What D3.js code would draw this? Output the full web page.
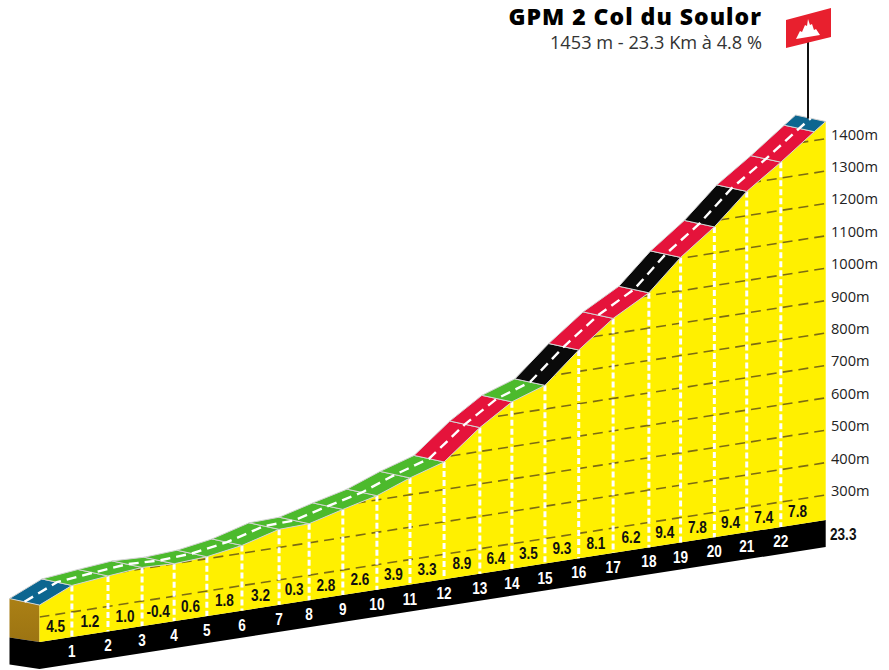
<!DOCTYPE html>
<html>
<head>
<meta charset="utf-8">
<script src="https://cdn.jsdelivr.net/npm/d3@7"></script>
<style>
    body { margin: 0; background: #fff; }
    svg { display: block; }
    text { font-family: "Open Sans", sans-serif; }
    .narrow { font-family: "Liberation Sans", sans-serif; font-weight: bold; }
</style>
</head>
<body>
<div id="chart"></div>
<script>
// profile points
const profileKm = [0, 0.96, 2.03, 3.04, 3.99, 4.96, 6.0, 7.1, 7.99, 8.99, 10, 10.98, 11.99, 13.05, 14, 14.98, 15.98, 17, 18.06, 19, 20, 20.96, 21.97, 22.96, 23.3];
const profileAlt = [337, 382, 394, 404, 400, 406, 424, 456, 459, 487, 513, 552, 585, 674, 738, 773, 866, 947, 1009, 1103, 1181, 1275, 1349, 1427, 1453];
const gradients = [4.5, 1.2, 1.0, -0.4, 0.6, 1.8, 3.2, 0.3, 2.8, 2.6, 3.9, 3.3, 8.9, 6.4, 3.5, 9.3, 8.1, 6.2, 9.4, 7.8, 9.4, 7.4, 7.8];
const altTicks = [300, 400, 500, 600, 700, 800, 900, 1000, 1100, 1200, 1300, 1400];
const kmLabels = d3.range(1, 23);
const totalKm = 23.3;
const title = "GPM 2 Col du Soulor";
const subtitle = "1453 m - 23.3 Km à 4.8 %";

const svg = d3.select("#chart").append("svg")
    .attr("width", 889)
    .attr("height", 670);

// x along the road, y is altitude plus a tilt that makes the oblique view
const x = d3.scaleLinear().domain([0, totalKm]).range([39.5, 825.7]);
const y = d3.scaleLinear().domain([223, 1453]).range([520, 121.5]);
const tilt = d3.scaleLinear().domain([0, totalKm]).range([122, 0]);
const py = (km, alt) => y(alt) + tilt(km);
const baseAlt = y.domain()[0];

const roadDx = -30, roadDy = -6.5;   // road depth
const bandH = 27;                    // black strip height

const gradColor = d3.scaleThreshold().domain([5, 9]).range(["#4cba2c", "#e5133b", "#0a0a0a"]);
const blue = "#0d6690";

const points = profileKm.map((km, i) => ({ km: km, alt: profileAlt[i] }));
const line = d3.line();

// no narrow font installed, so squeeze the bold one
const squeeze = (px, py) => "translate(" + px + "," + py + ") scale(0.8,1)";

// left wall
const defs = svg.append("defs");
const wall = defs.append("linearGradient").attr("id", "wall").attr("x1", 0).attr("x2", 0).attr("y1", 0).attr("y2", 1);
wall.append("stop").attr("offset", 0).attr("stop-color", "#ab8015");
wall.append("stop").attr("offset", 1).attr("stop-color", "#9c7412");

svg.append("path")
    .attr("d", line([
        [x(0), py(0, profileAlt[0])],
        [x(0) + roadDx, py(0, profileAlt[0]) + roadDy],
        [x(0) + roadDx, py(0, baseAlt) + roadDy + 2],
        [x(0), py(0, baseAlt)]
    ]) + "Z")
    .attr("fill", "url(#wall)");

// black strip at the foot
svg.append("path")
    .attr("d", line([
        [x(0) + roadDx, py(0, baseAlt) + roadDy + 2],
        [x(0), py(0, baseAlt)],
        [x(totalKm), py(totalKm, baseAlt)],
        [x(totalKm), py(totalKm, baseAlt) + bandH],
        [x(0), py(0, baseAlt) + bandH],
        [x(0) + roadDx, py(0, baseAlt) + bandH + roadDy + 2]
    ]) + "Z")
    .attr("fill", "#000");

// yellow face
const facePath = line(points.map(d => [x(d.km), py(d.km, d.alt)])
    .concat([[x(totalKm), py(totalKm, baseAlt)], [x(0), py(0, baseAlt)]])) + "Z";

svg.append("path").attr("d", facePath).attr("fill", "#fff000");

defs.append("clipPath").attr("id", "face").append("path").attr("d", facePath);

// altitude lines, clipped on the face
svg.append("g")
    .attr("clip-path", "url(#face)")
    .selectAll("line")
    .data(altTicks)
    .enter()
    .append("line")
    .attr("x1", x(0))
    .attr("x2", x(totalKm))
    .attr("y1", d => py(0, d))
    .attr("y2", d => py(totalKm, d))
    .attr("stroke", "#7d6c12")
    .attr("stroke-width", 1.6)
    .attr("stroke-dasharray", "10 6");

// km ticks on the face
svg.selectAll(".km-tick")
    .data(kmLabels)
    .enter()
    .append("line")
    .attr("class", "km-tick")
    .attr("x1", d => x(profileKm[d]))
    .attr("x2", d => x(profileKm[d]))
    .attr("y1", d => py(profileKm[d], profileAlt[d]))
    .attr("y2", d => py(profileKm[d], baseAlt))
    .attr("stroke", "#fff")
    .attr("stroke-width", 3)
    .attr("stroke-dasharray", "6 3");

// road, one piece for each km
const segments = d3.pairs(points).map((p, i) => ({
    a: p[0],
    b: p[1],
    color: (i === 0 || i === points.length - 2) ? blue : gradColor(gradients[i])
}));

svg.selectAll(".road")
    .data(segments)
    .enter()
    .append("path")
    .attr("class", "road")
    .attr("d", s => line([
        [x(s.a.km), py(s.a.km, s.a.alt)],
        [x(s.b.km), py(s.b.km, s.b.alt)],
        [x(s.b.km) + roadDx, py(s.b.km, s.b.alt) + roadDy],
        [x(s.a.km) + roadDx, py(s.a.km, s.a.alt) + roadDy]
    ]) + "Z")
    .attr("fill", s => s.color)
    .attr("stroke", "#d4d4d4")
    .attr("stroke-width", 1);

// center line of the road
svg.append("path")
    .attr("d", line(points.map(d => [x(d.km) + roadDx / 2, py(d.km, d.alt) + roadDy / 2])))
    .attr("fill", "none")
    .attr("stroke", "#fff")
    .attr("stroke-width", 2.4)
    .attr("stroke-dasharray", "10 6");

// gradient labels
svg.selectAll(".grad-label")
    .data(gradients)
    .enter()
    .append("text")
    .attr("class", "grad-label narrow")
    .attr("transform", (d, i) => {
        const mid = (profileKm[i] + profileKm[i + 1]) / 2;
        return squeeze(x(mid), py(mid, baseAlt) - 7);
    })
    .attr("text-anchor", "middle")
    .attr("font-size", "17px")
    .attr("fill", "#111")
    .text(d => d.toFixed(1));

// km labels on the black strip
svg.selectAll(".km-label")
    .data(kmLabels)
    .enter()
    .append("text")
    .attr("class", "km-label narrow")
    .attr("transform", d => squeeze(x(profileKm[d]), py(profileKm[d], baseAlt) + 20))
    .attr("text-anchor", "middle")
    .attr("font-size", "17px")
    .attr("fill", "#fff")
    .text(d => d);

// altitude labels
svg.selectAll(".alt-label")
    .data(altTicks)
    .enter()
    .append("text")
    .attr("class", "alt-label")
    .attr("x", 831)
    .attr("y", d => py(totalKm, d) + 1)
    .attr("font-size", "14.6px")
    .attr("fill", "#222")
    .text(d => d + "m");

svg.append("text")
    .attr("class", "narrow")
    .attr("transform", squeeze(830, py(totalKm, baseAlt) + 20))
    .attr("font-size", "17px")
    .attr("fill", "#111")
    .text(totalKm);

// title
svg.append("text")
    .attr("x", 762)
    .attr("y", 25)
    .attr("text-anchor", "end")
    .attr("font-size", "23px")
    .attr("font-weight", 800)
    .attr("letter-spacing", "1px")
    .attr("fill", "#000")
    .text(title);

svg.append("text")
    .attr("x", 762)
    .attr("y", 49)
    .attr("text-anchor", "end")
    .attr("font-size", "18.2px")
    .attr("fill", "#333")
    .text(subtitle);

// flag on the summit
const flag = svg.append("g");
flag.append("line")
    .attr("x1", 808).attr("x2", 808)
    .attr("y1", 42).attr("y2", py(totalKm, profileAlt[24]) - 3)
    .attr("stroke", "#111")
    .attr("stroke-width", 2);
flag.append("path")
    .attr("d", "M786,20L831,8L831,37L786,48Z")
    .attr("fill", "#e8202e");
flag.append("path")
    .attr("d", "M796,39L800,31L802,32L805,25L807,26L808,19L810,25L812,24L814,30L816,29L820,35Z")
    .attr("fill", "#fff");
</script>
</body>
</html>
